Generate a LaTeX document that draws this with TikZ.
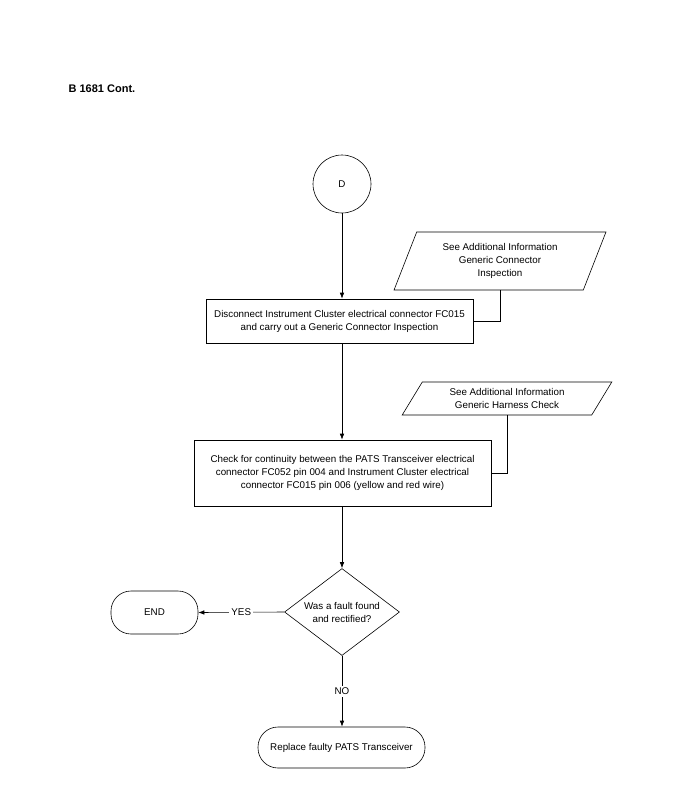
\documentclass[tikz,border=0pt]{standalone}
\usepackage{fontspec}
\setmainfont{Liberation Sans}
\usetikzlibrary{shapes.geometric,arrows.meta}

\begin{document}
\begin{tikzpicture}[x=1pt,y=-1pt,line width=0.6pt,font=\fontsize{9.8}{13}\selectfont,
  >={Latex[length=6pt,width=4.5pt]},
  box/.style={rectangle,draw,align=center},
  io/.style={trapezium,draw,align=center,trapezium stretches=true,inner sep=0pt},
  term/.style={rectangle,rounded corners=20pt,draw,align=center},
  ask/.style={diamond,draw,align=center,inner sep=0pt,aspect=1.32},
  lbl/.style={fill=white,inner sep=2pt}]
\useasboundingbox (0,0) rectangle (679,800);

\node (T)[anchor=west,font=\fontsize{11}{13}\selectfont\bfseries] at (65,89) {B 1681 Cont.};

\node (D)[circle,draw,minimum size=58pt] at (342,184) {D};
\node (P1)[io,trapezium left angle=66,trapezium right angle=114,minimum width=212pt,minimum height=58pt] at (500,261) {See Additional Information\\Generic Connector\\Inspection};
\node (B1)[box,minimum width=267pt,minimum height=44pt] at (339.5,321) {Disconnect Instrument Cluster electrical connector FC015\\and carry out a Generic Connector Inspection};

\node (P2)[io,trapezium left angle=56,trapezium right angle=124,minimum width=210pt,minimum height=33pt] at (507,398.5) {See Additional Information\\Generic Harness Check};
\node (B2)[box,minimum width=297pt,minimum height=66pt] at (342.5,473) {Check for continuity between the PATS Transceiver electrical\\connector FC052 pin 004 and Instrument Cluster electrical\\connector FC015 pin 006 (yellow and red wire)};

\node (Q1)[ask,minimum width=115pt,minimum height=87pt] at (342,612) {Was a fault found\\and rectified?};
\node (E)[term,minimum width=87pt,minimum height=43pt] at (154.5,612.5) {END};
\node (R)[term,minimum width=167pt,minimum height=41pt] at (341.5,747.5) {Replace faulty PATS Transceiver};

\draw[->] (D.south) -- (D.south |- B1.north);
\draw (P1.south) |- (B1.east);
\draw[->] (B1.south -| D.south) -- (D.south |- B2.north);
\draw (P2.south) |- (B2.east);
\draw[->] (B2.south -| D.south) -- (Q1.north);

\draw[->] (Q1.west) -- node[lbl]{YES} (E.east);
\draw[->] (Q1.south) -- node[lbl]{NO} (Q1.south |- R.north);
\end{tikzpicture}
\end{document}
